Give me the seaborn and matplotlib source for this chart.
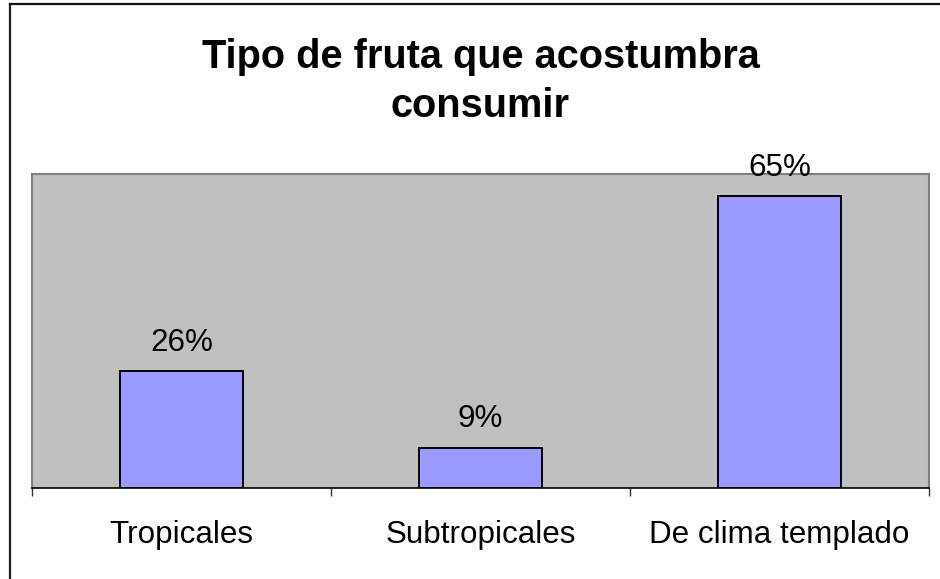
import matplotlib
matplotlib.use("Agg")
import matplotlib.pyplot as plt
from matplotlib.lines import Line2D
import seaborn as sns
import pandas as pd

# data
categories = ["Tropicales", "Subtropicales", "De clima templado"]
shares = [0.26, 0.09, 0.65]
share_labels = ["26%", "9%", "65%"]
title = "Tipo de fruta que acostumbra\nconsumir"

df = pd.DataFrame({"tipo": categories, "share": shares})

plt.rcParams["font.family"] = ["Liberation Sans", "DejaVu Sans"]

fig = plt.figure(figsize=(9.4, 5.79), dpi=100)
fig.patch.set_facecolor("white")
ax = fig.add_axes([32 / 940, 1 - 488 / 579, 897 / 940, 314 / 579])
ax.set_facecolor("#C0C0C0")

sns.barplot(data=df, x="tipo", y="share", color="#9999FF", width=0.41,
            edgecolor="black", linewidth=1.4, saturation=1, ax=ax)

ax.set_ylim(0, 0.70)
ax.set_xlim(-0.5, 2.5)
ax.set_xlabel("")
ax.set_ylabel("")
ax.set_yticks([])

# category labels centered, tick marks between categories
ax.set_xticks(range(len(categories)))
ax.set_xticklabels(categories, fontsize=22.6)
ax.tick_params(axis="x", length=0, pad=23)
ax.set_xticks([-0.5, 0.5, 1.5, 2.5], minor=True)
ax.tick_params(axis="x", which="minor", length=5.8, width=1, color="#333333",
               direction="out")

for side in ["top", "left", "right"]:
    ax.spines[side].set_color("#808080")
    ax.spines[side].set_linewidth(1.5)
ax.spines["bottom"].set_color("black")
ax.spines["bottom"].set_linewidth(1.2)

ax.bar_label(ax.containers[0], labels=share_labels, padding=9.5, fontsize=22.6)

# baseline of the last title line
fig.text(480.5 / 940, 1 - 117 / 579, title, ha="center", va="baseline",
         fontsize=28.6, fontweight="bold", linespacing=1.38,
         multialignment="center")

# chart frame (only left and top edges visible in the reference)
fig.add_artist(Line2D([10 / 940, 10 / 940], [0, 1 - 4 / 579], color="#222222",
                      lw=1.6, transform=fig.transFigure))
fig.add_artist(Line2D([10 / 940, 1], [1 - 4 / 579, 1 - 4 / 579], color="#111111",
                      lw=1.6, transform=fig.transFigure))

fig.savefig("out.png", dpi=100)
